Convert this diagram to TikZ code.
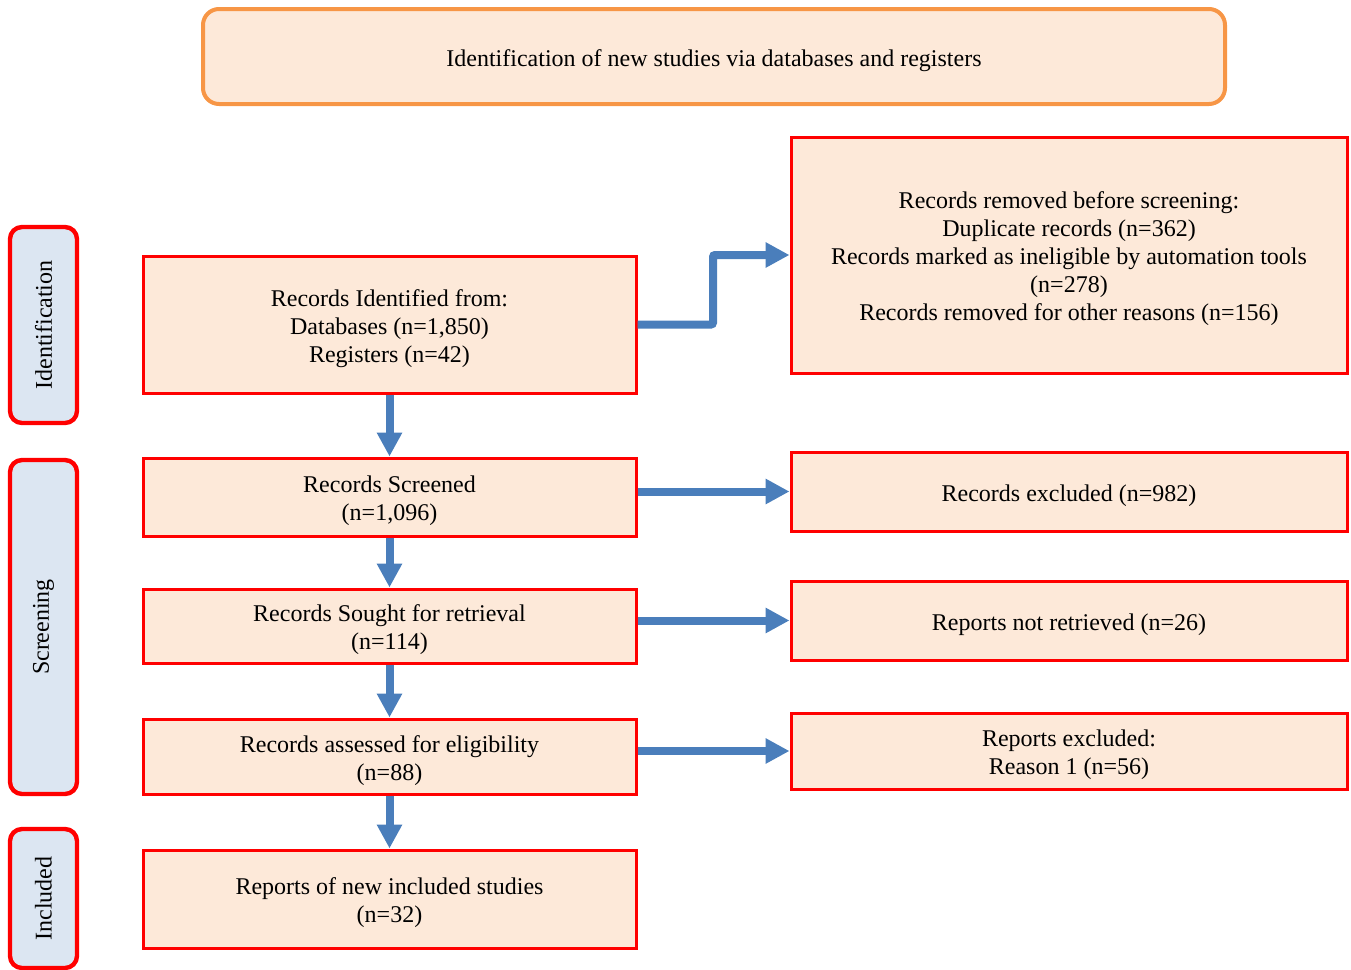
\documentclass[tikz,border=0pt]{standalone}
\usepackage{fontspec}
\setmainfont{Liberation Serif}
\usetikzlibrary{arrows.meta}

\definecolor{boxfill}{HTML}{FDE9D9}
\definecolor{sidefill}{HTML}{DCE6F2}
\definecolor{framered}{HTML}{FF0000}
\definecolor{frameorange}{HTML}{F79646}
\definecolor{flowblue}{HTML}{4A7EBB}

\newcommand{\tstrut}{\rule{0pt}{12.5pt}}

\tikzset{
	stagebox/.style={draw=framered, line width=1.5pt, fill=boxfill, align=center,
		inner sep=0pt, font=\fontsize{12}{14}\selectfont},
	sidebox/.style={draw=framered, line width=2.2pt, fill=sidefill, rounded corners=6pt,
		inner sep=0pt, minimum width=33.5pt, font=\fontsize{12}{14}\selectfont},
	flow/.style={draw=flowblue, line width=4pt, -{Triangle[length=12pt,width=12pt]}},
}

\begin{document}
\begin{tikzpicture}[x=0.5pt, y=-0.5pt]
	\useasboundingbox (0, 0) rectangle (1351, 970);
	% header
	\node[draw=frameorange, line width=2pt, fill=boxfill, rounded corners=8pt,
		minimum width=511pt, minimum height=47.5pt, font=\fontsize{12}{14}\selectfont]
		(header) at (714, 56.5) {\tstrut Identification of new studies via databases and registers};

	% stage labels on the left
	\node[sidebox, minimum height=98pt] (sideid) at (43.5, 325) {\rotatebox{90}{Identification}};
	\node[sidebox, minimum height=167pt] (sidescr) at (43.5, 627) {\rotatebox{90}{Screening}};
	\node[sidebox, minimum height=69.5pt] (sideinc) at (43.5, 898.5) {\rotatebox{90}{Included}};

	% main column
	\node[stagebox, minimum width=246.5pt, minimum height=68.5pt] (identified) at (389.5, 324.5)
		{\tstrut Records Identified from:\\ Databases (n=1,850)\\ Registers (n=42)};
	\node[stagebox, minimum width=246.5pt, minimum height=39pt] (screened) at (389.5, 497)
		{\tstrut Records Screened\\ (n=1,096)};
	\node[stagebox, minimum width=246.5pt, minimum height=37pt] (sought) at (389.5, 626)
		{\tstrut Records Sought for retrieval\\ (n=114)};
	\node[stagebox, minimum width=246.5pt, minimum height=37.5pt] (assessed) at (389.5, 756.5)
		{\tstrut Records assessed for eligibility\\ (n=88)};
	\node[stagebox, minimum width=246.5pt, minimum height=49pt] (included) at (389.5, 899)
		{\tstrut Reports of new included studies\\ (n=32)};

	% side column
	\node[stagebox, minimum width=278pt, minimum height=118pt] (removed) at (1069, 255)
		{\tstrut Records removed before screening:\\ Duplicate records (n=362)\\ Records marked as ineligible by automation tools\\ (n=278)\\ Records removed for other reasons (n=156)};
	\node[stagebox, minimum width=278pt, minimum height=39.5pt] (excluded) at (1069, 491.5)
		{\tstrut Records excluded (n=982)};
	\node[stagebox, minimum width=278pt, minimum height=39.5pt] (notretr) at (1069, 620.5)
		{\tstrut Reports not retrieved (n=26)};
	\node[stagebox, minimum width=278pt, minimum height=38pt] (repexcl) at (1069, 751)
		{\tstrut Reports excluded:\\ Reason 1 (n=56)};

	% arrows
	\draw[flow] (identified) -- (screened);
	\draw[flow] (screened) -- (sought);
	\draw[flow] (sought) -- (assessed);
	\draw[flow] (assessed) -- (included);
	\draw[flow, rounded corners=1pt] (identified.east) -- (713, 324.5) |- (removed.west);
	\draw[flow] (screened.east |- excluded.west) -- (excluded.west);
	\draw[flow] (sought.east |- notretr.west) -- (notretr.west);
	\draw[flow] (assessed.east |- repexcl.west) -- (repexcl.west);
\end{tikzpicture}
\end{document}
